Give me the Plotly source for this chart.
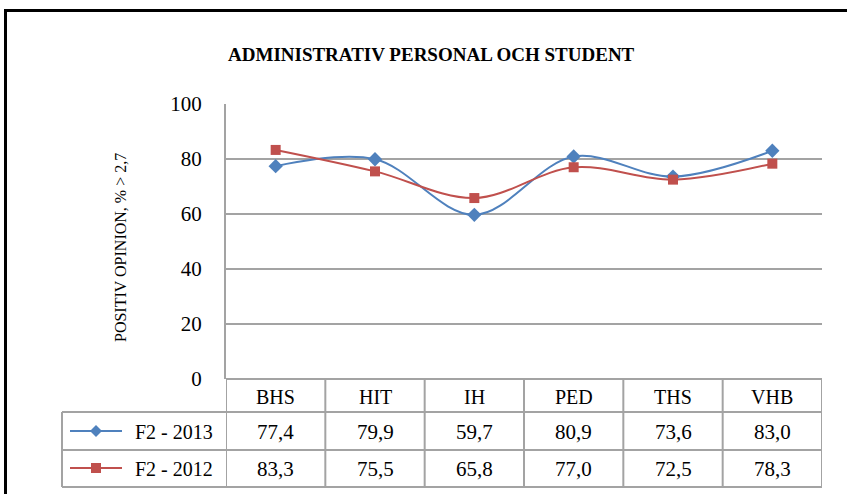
import plotly.graph_objects as go

categories = ["BHS", "HIT", "IH", "PED", "THS", "VHB"]
series_2013 = [77.4, 79.9, 59.7, 80.9, 73.6, 83.0]
series_2012 = [83.3, 75.5, 65.8, 77.0, 72.5, 78.3]
series_names = ["F2 - 2013", "F2 - 2012"]
y_ticks = [0, 20, 40, 60, 80, 100]
title_text = "ADMINISTRATIV PERSONAL OCH STUDENT"
y_title = "POSITIV OPINION, % > 2,7"

W, H = 847, 494
L, R, T, B = 226, 822, 104, 379
FONT = "Liberation Serif"
GRID = "#a3a3a3"
BLUE = "#4f81bd"
RED = "#c0504d"


def px(x):
    return (x - L) / (R - L)


def py(y):
    return (B - y) / (B - T)


def fmt(v):
    return f"{v:.1f}".replace(".", ",")


fig = go.Figure()
fig.add_trace(go.Scatter(
    x=categories, y=series_2013, name=series_names[0], mode="lines+markers",
    line=dict(color=BLUE, width=2, shape="spline", smoothing=1.0),
    marker=dict(symbol="diamond", size=11, color=BLUE)))
fig.add_trace(go.Scatter(
    x=categories, y=series_2012, name=series_names[1], mode="lines+markers",
    line=dict(color=RED, width=2, shape="spline", smoothing=1.0),
    marker=dict(symbol="square", size=10, color=RED)))

shapes = []
ann = []

# table horizontal lines
for yy in [412, 450, 487]:
    shapes.append(dict(type="line", xref="paper", yref="paper", x0=px(62), x1=px(R),
                       y0=py(yy), y1=py(yy), line=dict(color=GRID, width=2)))
# header top line (axis at 0)
shapes.append(dict(type="line", xref="paper", yref="paper", x0=0, x1=1,
                   y0=0, y1=0, line=dict(color=GRID, width=2)))
# left edge of table
shapes.append(dict(type="line", xref="paper", yref="paper", x0=px(62), x1=px(62),
                   y0=py(412), y1=py(487), line=dict(color=GRID, width=2)))
# category dividers
for i in range(len(categories) + 1):
    shapes.append(dict(type="line", xref="x", yref="paper", x0=i - 0.5, x1=i - 0.5,
                       y0=0, y1=py(487), line=dict(color=GRID, width=2)))

# header labels
for i, c in enumerate(categories):
    ann.append(dict(x=i, y=py(397), xref="x", yref="paper", text=c, showarrow=False,
                    xanchor="center", yanchor="middle",
                    font=dict(family=FONT, size=20, color="#000")))
# values
for row_y, vals in [(432, series_2013), (469, series_2012)]:
    for i, v in enumerate(vals):
        ann.append(dict(x=i, y=py(row_y), xref="x", yref="paper", text=fmt(v),
                        showarrow=False, xanchor="center", yanchor="middle",
                        font=dict(family=FONT, size=21, color="#000")))

# row labels with legend glyphs
for row_y, name, col, sym in [(432, series_names[0], BLUE, "d"), (469, series_names[1], RED, "s")]:
    ann.append(dict(x=px(215), y=py(row_y), xref="paper", yref="paper", text=name,
                    showarrow=False, xanchor="right", yanchor="middle",
                    font=dict(family=FONT, size=20, color="#000")))
    shapes.append(dict(type="line", xref="paper", yref="paper", x0=px(70), x1=px(122),
                       y0=py(row_y - 1), y1=py(row_y - 1), line=dict(color=col, width=2)))
    if sym == "d":
        path = (f"M {px(96)},{py(row_y-7)} L {px(102)},{py(row_y-1)} "
                f"L {px(96)},{py(row_y+5)} L {px(90)},{py(row_y-1)} Z")
        shapes.append(dict(type="path", xref="paper", yref="paper", path=path,
                           fillcolor=col, line=dict(color=col, width=0)))
    else:
        shapes.append(dict(type="rect", xref="paper", yref="paper", x0=px(91), x1=px(101),
                           y0=py(row_y - 6), y1=py(row_y + 4), fillcolor=col,
                           line=dict(color=col, width=0)))

# outer border
shapes.append(dict(type="rect", xref="paper", yref="paper", x0=px(5.5), x1=px(870),
                   y0=py(10.5), y1=py(520), line=dict(color="#000", width=3)))

# title and y-title
ann.append(dict(x=px(431), y=py(55), xref="paper", yref="paper",
                text=f"<b>{title_text}</b>",
                showarrow=False, font=dict(family=FONT, size=19, color="#000"),
                xanchor="center", yanchor="middle"))
ann.append(dict(x=px(120), y=py(248), xref="paper", yref="paper", text=y_title,
                showarrow=False, textangle=-90, xanchor="center", yanchor="middle",
                font=dict(family=FONT, size=16, color="#000")))

fig.update_layout(
    width=W, height=H,
    margin=dict(l=L, r=W - R, t=T, b=H - B, pad=0),
    paper_bgcolor="white", plot_bgcolor="white",
    showlegend=False,
    shapes=shapes, annotations=ann,
    xaxis=dict(type="category", range=[-0.5, len(categories) - 0.5],
               showticklabels=False, showgrid=False, zeroline=False, showline=False,
               ticks=""),
    yaxis=dict(range=[0, 100], tickvals=y_ticks, showgrid=True, gridcolor=GRID,
               gridwidth=2, zeroline=False, showline=True, linecolor=GRID, linewidth=2,
               ticks="", ticklabelstandoff=18,
               tickfont=dict(family=FONT, size=21, color="#000")),
)

fig.write_html("out.html", config={"displayModeBar": False},
               post_script="document.body.style.margin='0';document.body.style.overflow='hidden';")
